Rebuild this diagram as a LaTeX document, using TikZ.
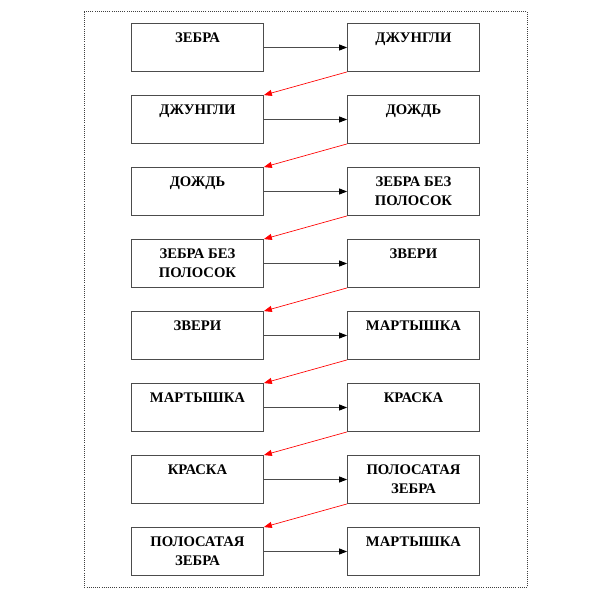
\documentclass[tikz,border=0pt]{standalone}
\usepackage{fontspec}
\setmainfont{Liberation Serif}
\usetikzlibrary{arrows.meta}

\tikzset{
  box/.style={draw=black!70, line width=0.6pt, minimum width=99pt, minimum height=36pt, inner sep=0pt},
  word/.style={anchor=north, yshift=-7pt, inner sep=0pt, align=center,
    font=\fontsize{11}{14}\selectfont\bfseries},
  next/.style={draw=black!70, line width=0.6pt, -{Triangle[length=6pt,width=4.5pt,color=black]}},
  back/.style={draw=red, line width=0.5pt, -{Triangle[length=6pt,width=4.5pt]}}
}

\begin{document}
\begin{tikzpicture}[x=0.75pt, y=-0.75pt]
        \useasboundingbox (0,0) rectangle (612,589);
        \draw[black!75, densely dotted, line width=0.6pt] (84,11.5) rectangle (527.5,587);

        % left column
        \node[box, label={[word]north:ЗЕБРА}] (l1) at (197.5,47.5) {};
        \node[box, label={[word]north:ДЖУНГЛИ}] (l2) at (197.5,119.5) {};
        \node[box, label={[word]north:ДОЖДЬ}] (l3) at (197.5,191.5) {};
        \node[box, label={[word]north:ЗЕБРА БЕЗ\\ПОЛОСОК}] (l4) at (197.5,263.5) {};
        \node[box, label={[word]north:ЗВЕРИ}] (l5) at (197.5,335.5) {};
        \node[box, label={[word]north:МАРТЫШКА}] (l6) at (197.5,407.5) {};
        \node[box, label={[word]north:КРАСКА}] (l7) at (197.5,479.5) {};
        \node[box, label={[word]north:ПОЛОСАТАЯ\\ЗЕБРА}] (l8) at (197.5,551.5) {};

        % right column
        \node[box, label={[word]north:ДЖУНГЛИ}] (r1) at (413.5,47.5) {};
        \node[box, label={[word]north:ДОЖДЬ}] (r2) at (413.5,119.5) {};
        \node[box, label={[word]north:ЗЕБРА БЕЗ\\ПОЛОСОК}] (r3) at (413.5,191.5) {};
        \node[box, label={[word]north:ЗВЕРИ}] (r4) at (413.5,263.5) {};
        \node[box, label={[word]north:МАРТЫШКА}] (r5) at (413.5,335.5) {};
        \node[box, label={[word]north:КРАСКА}] (r6) at (413.5,407.5) {};
        \node[box, label={[word]north:ПОЛОСАТАЯ\\ЗЕБРА}] (r7) at (413.5,479.5) {};
        \node[box, label={[word]north:МАРТЫШКА}] (r8) at (413.5,551.5) {};

        \foreach \i in {1,...,8}
            \draw[next] (l\i.east) -- (r\i.west);

        \foreach \i [evaluate=\i as \j using int(\i+1)] in {1,...,7}
            \draw[back] (r\i.south west) -- (l\j.north east);
    \end{tikzpicture}
\end{document}
